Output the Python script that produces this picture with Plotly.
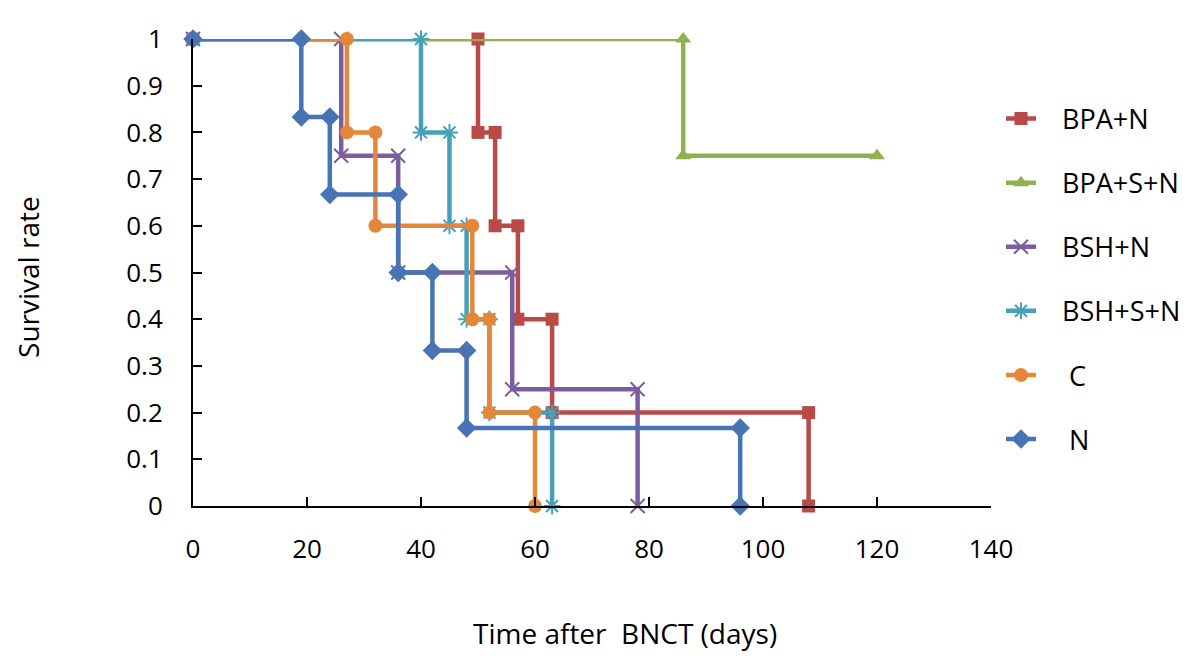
import plotly.graph_objects as go

# Step-curve vertices (days, survival rate)
bpa_n_x = [0, 50, 50, 53, 53, 57, 57, 63, 63, 108, 108]
bpa_n_y = [1, 1, 0.8, 0.8, 0.6, 0.6, 0.4, 0.4, 0.2, 0.2, 0]

bpa_s_n_x = [0, 86, 86, 120]
bpa_s_n_y = [1, 1, 0.75, 0.75]

bsh_n_x = [0, 26, 26, 36, 36, 56, 56, 78, 78]
bsh_n_y = [1, 1, 0.75, 0.75, 0.5, 0.5, 0.25, 0.25, 0]

bsh_s_n_x = [0, 40, 40, 45, 45, 48, 48, 52, 52, 63, 63]
bsh_s_n_y = [1, 1, 0.8, 0.8, 0.6, 0.6, 0.4, 0.4, 0.2, 0.2, 0]

c_x = [0, 27, 27, 32, 32, 49, 49, 52, 52, 60, 60]
c_y = [1, 1, 0.8, 0.8, 0.6, 0.6, 0.4, 0.4, 0.2, 0.2, 0]

n_x = [0, 19, 19, 24, 24, 36, 36, 42, 42, 48, 48, 96, 96]
n_y = [1, 1, 0.833, 0.833, 0.667, 0.667, 0.5, 0.5, 0.333, 0.333, 0.167, 0.167, 0]

series_names = ["BPA+N", "BPA+S+N", "BSH+N", "BSH+S+N", " C", " N"]
x_ticks = [0, 20, 40, 60, 80, 100, 120, 140]
y_ticks = [0, 0.1, 0.2, 0.3, 0.4, 0.5, 0.6, 0.7, 0.8, 0.9, 1]
y_tick_labels = ["0", "0.1", "0.2", "0.3", "0.4", "0.5", "0.6", "0.7", "0.8", "0.9", "1"]

series = [
    (bpa_n_x, bpa_n_y, "#BA4A47", dict(symbol="square", size=13)),
    (bpa_s_n_x, bpa_s_n_y, "#8FB150", dict(symbol="triangle-up", size=14)),
    (bsh_n_x, bsh_n_y, "#7B5E9E", dict(symbol="x-thin-open", size=14, line=dict(width=2, color="#7B5E9E"))),
    (bsh_s_n_x, bsh_s_n_y, "#45A0B8", dict(symbol="asterisk-open", size=14, line=dict(width=2, color="#45A0B8"))),
    (c_x, c_y, "#E4873A", dict(symbol="circle", size=14)),
    (n_x, n_y, "#4674B4", dict(symbol="diamond", size=15)),
]

font_family = "Open Sans, DejaVu Sans, sans-serif"

W, H = 1192, 657
ML, MR, MT, MB = 185, 209, 27, 159
pw, ph = W - ML - MR, H - MT - MB


def px_to_paper(px, py):
    # px, py: pixel position in the page (page has an 8px body margin)
    fx, fy = px - 8, py - 8
    return (fx - ML) / pw, 1 - (fy - MT) / ph


fig = go.Figure()
for (xs, ys, color, marker), name in zip(series, series_names):
    m = dict(color=color)
    m.update(marker)
    pad = "\u00a0" * (4 if name.startswith(" ") else 3)
    fig.add_trace(go.Scatter(
        x=xs, y=ys, name=pad + name.strip(), mode="lines+markers",
        line=dict(color=color, width=4.5),
        marker=m, cliponaxis=False, legendgroup=name,
    ))

lx, ly = px_to_paper(1001, 91)
yt_x, yt_y = px_to_paper(28, 275)
xt_x, xt_y = px_to_paper(625, 634)

fig.update_layout(
    width=W, height=H,
    margin=dict(l=ML, r=MR, t=MT, b=MB),
    plot_bgcolor="white", paper_bgcolor="white",
    font=dict(family=font_family, size=26, color="black"),
    showlegend=True,
    legend=dict(
        x=lx, y=ly, xanchor="left", yanchor="top",
        font=dict(size=27, family=font_family),
        tracegroupgap=26, itemwidth=30,
        bgcolor="rgba(0,0,0,0)",
    ),
    xaxis=dict(
        range=[0, 140], tickvals=x_ticks, showgrid=False, zeroline=False,
        showline=True, linecolor="black", linewidth=2,
        ticks="inside", ticklen=9, tickwidth=2, tickcolor="black",
        ticklabelstandoff=19, tickfont=dict(size=26),
    ),
    yaxis=dict(
        range=[0, 1], tickvals=y_ticks, ticktext=y_tick_labels,
        showgrid=False, zeroline=False,
        showline=True, linecolor="black", linewidth=2,
        ticks="inside", ticklen=9, tickwidth=2, tickcolor="black",
        ticklabelstandoff=23, tickfont=dict(size=26),
    ),
    annotations=[
        dict(text="Survival rate", x=yt_x, y=yt_y, xref="paper", yref="paper",
             xanchor="center", yanchor="middle",
             showarrow=False, textangle=-90, font=dict(size=28)),
        dict(text="Time after\u00a0 BNCT (days)", x=xt_x, y=xt_y, xref="paper", yref="paper",
             xanchor="center", yanchor="middle",
             showarrow=False, font=dict(size=28)),
    ],
)

fig.write_html("out.html")
